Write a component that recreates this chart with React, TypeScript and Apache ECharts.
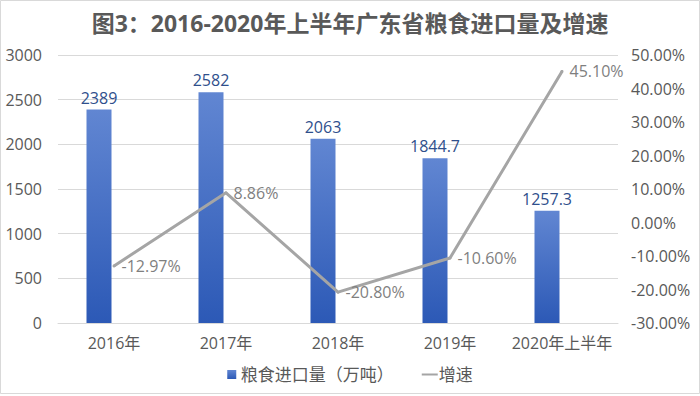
import React, { useEffect, useRef } from "react";
import * as echarts from "echarts";

const categories = ["2016年", "2017年", "2018年", "2019年", "2020年上半年"];
const importVolume = [2389, 2582, 2063, 1844.7, 1257.3];
const growthRate = [-12.97, 8.86, -20.8, -10.6, 45.1];
const titleText = "图3：2016-2020年上半年广东省粮食进口量及增速";
const barName = "粮食进口量（万吨）";
const lineName = "增速";

export default function App() {
  const ref = useRef<HTMLDivElement>(null);
  useEffect(() => {
    document.body.style.margin = "0";
    const chart = echarts.init(ref.current!, null, { renderer: "svg" });
    const font = "'Open Sans', 'Noto Sans CJK SC', sans-serif";
    chart.setOption({
      animation: false,
      textStyle: { fontFamily: font },
      title: {
        text: titleText,
        left: "center",
        top: 6,
        textStyle: { fontSize: 23, fontWeight: "bold", color: "#595959", fontFamily: font },
      },
      graphic: [
        {
          type: "rect",
          shape: { x: 0.5, y: 0.5, width: 699, height: 393 },
          style: { fill: "none", stroke: "#d9d9d9", lineWidth: 1 },
        },
      ],
      legend: {
        bottom: 8,
        left: "center",
        itemGap: 28,
        itemWidth: 16,
        itemHeight: 9,
        textStyle: { fontSize: 17, color: "#595959", padding: [0, 0, 0, -4] },
        data: [
          { name: barName, icon: "path://M0 0h10v10H0z" },
          { name: lineName, icon: "path://M0 0h16v2H0z", itemStyle: { color: "#a5a5a5", opacity: 1 } },
        ],
      },
      grid: { left: 58, right: 82, top: 55, bottom: 73 },
      xAxis: {
        type: "category",
        data: categories,
        axisLine: { show: true, lineStyle: { color: "#d9d9d9" } },
        axisTick: { show: false },
        axisLabel: { fontSize: 16, color: "#595959", margin: 12, interval: 0 },
      },
      yAxis: [
        {
          type: "value",
          min: 0,
          max: 3000,
          interval: 500,
          axisLabel: {
            fontSize: 16,
            color: "#595959",
            margin: 16,
            formatter: (v: number) => String(v),
          },
          splitLine: { lineStyle: { color: "#d9d9d9" } },
          axisLine: { show: false },
        },
        {
          type: "value",
          min: -30,
          max: 50,
          interval: 10,
          axisLabel: {
            fontSize: 16,
            color: "#595959",
            margin: 13,
            formatter: (v: number) => v.toFixed(2) + "%",
          },
          splitLine: { show: false },
          axisLine: { show: false },
        },
      ],
      series: [
        {
          name: barName,
          type: "bar",
          data: importVolume,
          barWidth: 25,
          barGap: "20%",
          itemStyle: {
            color: new echarts.graphic.LinearGradient(0, 0, 0, 1, [
              { offset: 0, color: "#6186d2" },
              { offset: 1, color: "#2c59b6" },
            ]),
          },
          label: {
            show: true,
            position: "top",
            distance: 4,
            fontSize: 16,
            color: "#2f4f8c",
          },
        },
        {
          name: "_spacer",
          type: "bar",
          data: categories.map(() => "-"),
          barWidth: 25,
          barGap: "20%",
        },
        {
          name: lineName,
          type: "line",
          yAxisIndex: 1,
          data: growthRate,
          symbol: "circle",
          symbolSize: 3,
          showSymbol: true,
          lineStyle: { color: "#a5a5a5", width: 3 },
          itemStyle: { color: "#a5a5a5" },
          label: {
            show: true,
            position: "right",
            distance: 6,
            fontSize: 16,
            color: "#7f7f7f",
            formatter: (p: any) => p.value.toFixed(2) + "%",
          },
          labelLayout: { hideOverlap: false },
          z: 5,
        },
      ],
    });
    return () => chart.dispose();
  }, []);
  return <div ref={ref} style={{ width: 700, height: 396 }} />;
}
